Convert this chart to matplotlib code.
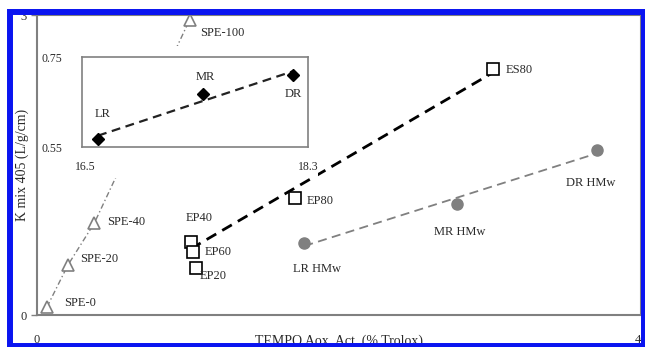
import numpy as np
import matplotlib
matplotlib.use("Agg")
import matplotlib.pyplot as plt
from matplotlib.patches import Rectangle

plt.rcParams['font.family'] = ['Liberation Serif', 'DejaVu Serif']

# ---- data ----
spe_labels = ["SPE-0", "SPE-20", "SPE-40", "SPE-100"]
spe_x = [0.66, 2.05, 3.8, 10.1]
spe_y = [0.08, 0.50, 0.92, 2.95]

ep_labels = ["EP40", "EP60", "EP20", "EP80", "ES80"]
ep_x = [10.2, 10.3, 10.5, 17.1, 30.2]
ep_y = [0.73, 0.63, 0.47, 1.17, 2.46]
ep_fit_labels = ["EP40", "EP80", "ES80"]

hmw_labels = ["LR HMw", "MR HMw", "DR HMw"]
hmw_x = [17.7, 27.8, 37.1]
hmw_y = [0.72, 1.11, 1.65]

in_labels = ["LR", "MR", "DR"]
in_x = [16.6, 17.45, 18.18]
in_y = [0.568, 0.668, 0.71]

x_ticks = [0, 40]
y_ticks = [0, 3]
in_x_ticks = [16.5, 18.3]
in_y_ticks = [0.55, 0.75]

W, H = 645, 347
fig = plt.figure(figsize=(W / 100, H / 100), dpi=100)

def fx(px):
    return px / W

def fy(py):
    return 1 - py / H

gray = "#808080"
txt = "#2a2a2a"
fs = 9

ax = fig.add_axes([fx(37), fy(315), fx(641) - fx(37), fy(15) - fy(315)])
ax.set_xlim(0, 40)
ax.set_ylim(0, 3)
ax.set_xticks(x_ticks)
ax.set_yticks(y_ticks)
ax.tick_params(labelsize=fs, length=4, color=gray, width=1, labelcolor=txt)
ax.tick_params(axis='x', length=0, pad=14)
for s in ax.spines.values():
    s.set_color(gray)
    s.set_linewidth(1.5)
ax.set_xlabel("TEMPO Aox. Act. (% Trolox)", fontsize=10, color=txt)
ax.xaxis.set_label_coords(0.5, -0.066)
ax.set_ylabel("K mix 405 (L/g/cm)", fontsize=10, color=txt)
ax.yaxis.set_label_coords(-0.014, 0.5)

# SPE series
ax.plot(spe_x, spe_y, color=gray, lw=1, ls=(0, (4, 2, 1, 2)), zorder=2)
ax.plot(spe_x, spe_y, ls='none', marker='^', ms=8, mfc='white', mec=gray, mew=1.2, zorder=3)
spe_off = [(12, 3), (9, 4), (9, 1), (8, -9)]
for lab, x, y, o in zip(spe_labels, spe_x, spe_y, spe_off):
    ax.annotate(lab, (x, y), xytext=o, textcoords='offset points', fontsize=fs,
                ha='left', va='center', color=txt)

# EP series with trend line
fx_ = [ep_x[ep_labels.index(l)] for l in ep_fit_labels]
fy_ = [ep_y[ep_labels.index(l)] for l in ep_fit_labels]
k, b = np.polyfit(fx_, fy_, 1)
xs = np.array([min(fx_), max(fx_)])
ax.plot(xs, k * xs + b, color='black', lw=2, ls=(0, (4, 2.5)), zorder=2)
ax.plot(ep_x, ep_y, ls='none', marker='s', ms=8, mfc='white', mec='black', mew=1.2, zorder=3)
ep_off = [(6, 17, 'center'), (9, 0, 'left'), (3, -6, 'left'), (8, -2, 'left'), (9, -1, 'left')]
for lab, x, y, (ox, oy, ha) in zip(ep_labels, ep_x, ep_y, ep_off):
    ax.annotate(lab, (x, y), xytext=(ox, oy), textcoords='offset points', fontsize=fs,
                ha=ha, va='center', color=txt)

# HMw series
k2, b2 = np.polyfit(hmw_x, hmw_y, 1)
xs2 = np.array([min(hmw_x), max(hmw_x)])
ax.plot(xs2, k2 * xs2 + b2, color=gray, lw=1.3, ls=(0, (5, 3)), zorder=2)
ax.plot(hmw_x, hmw_y, ls='none', marker='o', ms=8, color=gray, zorder=3)
hmw_off = [(9, -19), (2, -20), (-5, -24)]
for lab, x, y, o in zip(hmw_labels, hmw_x, hmw_y, hmw_off):
    ax.annotate(lab, (x, y), xytext=o, textcoords='offset points', fontsize=fs,
                ha='center', va='center', color=txt)

# white background of the inset chart object
bg = fig.add_axes([fx(40), fy(178), fx(318) - fx(40), fy(46) - fy(178)])
bg.set_facecolor('white')
bg.set_xticks([])
bg.set_yticks([])
for s in bg.spines.values():
    s.set_visible(False)
bg.set_zorder(1)

ins = fig.add_axes([fx(82), fy(147), fx(308) - fx(82), fy(57) - fy(147)])
ins.set_zorder(2)
ins.set_xlim(16.47, 18.3)
ins.set_ylim(0.55, 0.75)
ins.set_xticks(in_x_ticks)
ins.set_yticks(in_y_ticks)
ins.tick_params(labelsize=8.5, length=0, colors=txt)
ins.tick_params(axis='x', pad=10)
ins.tick_params(axis='y', pad=14)
for s in ins.spines.values():
    s.set_color(gray)
    s.set_linewidth(1.2)
k3, b3 = np.polyfit(in_x, in_y, 1)
xs3 = np.array([min(in_x), max(in_x)])
ins.plot(xs3, k3 * xs3 + b3, color='#222222', lw=1.6, ls=(0, (4, 2.5)))
ins.plot(in_x, in_y, ls='none', marker='D', ms=6, color='black')
in_off = [(3, 18), (2, 12), (0, -14)]
for lab, x, y, o in zip(in_labels, in_x, in_y, in_off):
    ins.annotate(lab, (x, y), xytext=o, textcoords='offset points', fontsize=fs,
                 ha='center', va='center', color=txt)

# blue frame
fig.patches.append(Rectangle((fx(10), fy(346)), fx(644) - fx(10), fy(12) - fy(346),
                             transform=fig.transFigure, fill=False, edgecolor='#0a14f0',
                             linewidth=4.3, zorder=10))

fig.savefig("out.png", dpi=100)
